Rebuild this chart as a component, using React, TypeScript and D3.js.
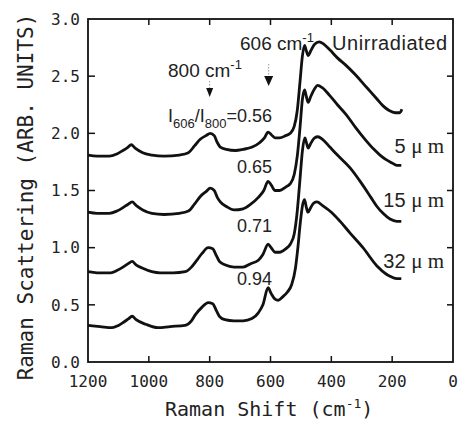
import * as d3 from "d3";

const WIDTH = 460;
const HEIGHT = 424;
const MARGIN = { top: 19, right: 7, bottom: 62, left: 88 };

const xTicks = [1200, 1000, 800, 600, 400, 200, 0];
const yTicks = [0, 0.5, 1.0, 1.5, 2.0, 2.5, 3.0];

// [Raman shift (cm-1), intensity]
const unirradiated: [number, number][] = [
  [1200, 1.81], [1170, 1.8], [1130, 1.8], [1105, 1.82], [1085, 1.85], [1068, 1.88], [1058, 1.9],
  [1045, 1.87], [1020, 1.83], [990, 1.81], [950, 1.8], [900, 1.81], [870, 1.83], [850, 1.89],
  [830, 1.95], [812, 1.98], [798, 2.0], [785, 1.98], [775, 1.92], [765, 1.88], [745, 1.86],
  [715, 1.85], [690, 1.86], [660, 1.88], [635, 1.92], [620, 1.96], [608, 2.01], [598, 1.99],
  [585, 1.96], [570, 1.96], [550, 1.98], [535, 2.0], [522, 2.06], [512, 2.2], [503, 2.45],
  [495, 2.68], [488, 2.77], [482, 2.72], [476, 2.68], [468, 2.72], [455, 2.78], [440, 2.8],
  [425, 2.78], [405, 2.73], [380, 2.66], [350, 2.59], [320, 2.51], [290, 2.42], [270, 2.36],
  [250, 2.3], [230, 2.24], [210, 2.2], [190, 2.18], [175, 2.18], [168, 2.21],
];

const um5: [number, number][] = [
  [1200, 1.31], [1170, 1.3], [1130, 1.3], [1105, 1.32], [1085, 1.35], [1068, 1.38], [1055, 1.4],
  [1042, 1.37], [1020, 1.33], [990, 1.3], [950, 1.29], [900, 1.3], [870, 1.32], [850, 1.38],
  [830, 1.45], [812, 1.49], [798, 1.52], [785, 1.5], [775, 1.44], [765, 1.4], [745, 1.36],
  [720, 1.33], [690, 1.34], [665, 1.38], [640, 1.44], [622, 1.5], [608, 1.58], [598, 1.55],
  [585, 1.5], [570, 1.5], [550, 1.53], [535, 1.56], [522, 1.64], [512, 1.8], [503, 2.05],
  [495, 2.3], [488, 2.38], [482, 2.32], [476, 2.27], [468, 2.32], [455, 2.39], [445, 2.42],
  [430, 2.4], [405, 2.33], [380, 2.25], [350, 2.16], [320, 2.05], [290, 1.95], [260, 1.86],
  [240, 1.81], [220, 1.77], [200, 1.74], [185, 1.72], [170, 1.72],
];

const um15: [number, number][] = [
  [1200, 0.79], [1170, 0.78], [1125, 0.78], [1105, 0.8], [1085, 0.83], [1068, 0.86], [1055, 0.88],
  [1042, 0.85], [1020, 0.82], [990, 0.79], [963, 0.78], [920, 0.78], [880, 0.79], [860, 0.83],
  [845, 0.88], [825, 0.95], [805, 1.0], [790, 0.99], [778, 0.93], [768, 0.88], [750, 0.85],
  [720, 0.83], [690, 0.83], [665, 0.86], [640, 0.89], [625, 0.94], [608, 1.03], [598, 1.0],
  [585, 0.96], [570, 0.96], [550, 0.99], [535, 1.03], [522, 1.12], [512, 1.32], [503, 1.6],
  [495, 1.85], [487, 1.96], [481, 1.91], [476, 1.87], [468, 1.91], [455, 1.96], [444, 1.97],
  [430, 1.95], [405, 1.88], [380, 1.81], [339, 1.7], [300, 1.56], [270, 1.44], [250, 1.36],
  [230, 1.3], [207, 1.25], [185, 1.23], [170, 1.23],
];

const um32: [number, number][] = [
  [1200, 0.32], [1160, 0.31], [1121, 0.3], [1100, 0.32], [1082, 0.35], [1066, 0.38], [1055, 0.4],
  [1042, 0.37], [1010, 0.33], [970, 0.3], [930, 0.31], [881, 0.32], [860, 0.36], [848, 0.41],
  [825, 0.48], [805, 0.52], [790, 0.51], [778, 0.45], [768, 0.4], [750, 0.37], [720, 0.36],
  [690, 0.36], [661, 0.38], [640, 0.43], [625, 0.5], [608, 0.65], [598, 0.6], [585, 0.55],
  [575, 0.54], [560, 0.57], [545, 0.61], [530, 0.68], [518, 0.82], [510, 1.0], [502, 1.22],
  [494, 1.38], [488, 1.42], [482, 1.35], [477, 1.31], [468, 1.35], [458, 1.39], [447, 1.4],
  [430, 1.37], [400, 1.31], [371, 1.23], [339, 1.13], [296, 1.0], [250, 0.84], [220, 0.77],
  [207, 0.75], [185, 0.73], [170, 0.73],
];

const spectra = [unirradiated, um5, um15, um32];

const sampleLabels = ["5", "15", "32"];
const ratioLabels = ["0.65", "0.71", "0.94"];

const MONO = "'DejaVu Sans Mono', monospace";
const SANS = "'Liberation Sans', Arial, sans-serif";

const App = () => {
  const x = d3
    .scaleLinear()
    .domain([1200, 0])
    .range([MARGIN.left, WIDTH - MARGIN.right]);
  const y = d3
    .scaleLinear()
    .domain([0, 3])
    .range([HEIGHT - MARGIN.bottom, MARGIN.top]);

  const line = d3
    .line<[number, number]>()
    .x((d) => x(d[0]))
    .y((d) => y(d[1]))
    .curve(d3.curveMonotoneX);

  const x0 = x(1200);
  const x1 = x(0);
  const y0 = y(0);
  const y1 = y(3);
  const tick = 6;

  // label positions for the three irradiated samples and the ratios
  const sampleY = [153, 207, 268];
  const ratioY = [173, 232, 285];

  return (
    <svg
      width={WIDTH}
      height={HEIGHT}
      style={{ position: "absolute", left: 0, top: 0, background: "white" }}
    >
      {/* spectra */}
      {spectra.map((s, i) => (
        <path
          key={i}
          d={line(s) ?? ""}
          fill="none"
          stroke="#111"
          strokeWidth={2.8}
          strokeLinejoin="round"
        />
      ))}

      {/* frame and inward ticks */}
      <rect
        x={x0}
        y={y1}
        width={x1 - x0}
        height={y0 - y1}
        fill="none"
        stroke="#111"
        strokeWidth={1.8}
      />
      {xTicks.slice(1, -1).map((t) => (
        <g key={"xt" + t} stroke="#111" strokeWidth={1.5}>
          <line x1={x(t)} x2={x(t)} y1={y0} y2={y0 - tick} />
          <line x1={x(t)} x2={x(t)} y1={y1} y2={y1 + tick} />
        </g>
      ))}
      {yTicks.slice(1, -1).map((t) => (
        <g key={"yt" + t} stroke="#111" strokeWidth={1.5}>
          <line x1={x0} x2={x0 + tick + 1} y1={y(t)} y2={y(t)} />
          <line x1={x1} x2={x1 - tick} y1={y(t)} y2={y(t)} />
        </g>
      ))}

      {/* tick labels */}
      {xTicks.map((t) => (
        <text
          key={"xl" + t}
          x={x(t)}
          y={387}
          textAnchor="middle"
          fontFamily={MONO}
          fontSize={16}
          fill="#222"
        >
          {t}
        </text>
      ))}
      {yTicks.map((t) => (
        <text
          key={"yl" + t}
          x={80}
          y={y(t)}
          dy="0.36em"
          textAnchor="end"
          fontFamily={MONO}
          fontSize={16}
          fill="#222"
        >
          {t.toFixed(1)}
        </text>
      ))}

      {/* axis titles */}
      <text x={165} y={416} fontFamily={MONO} fontSize={20} fill="#222">
        Raman Shift (cm
        <tspan fontSize={13} dy={-8}>-1</tspan>
        <tspan dy={8}>)</tspan>
      </text>
      <text
        transform="translate(33,197) rotate(-90)"
        textAnchor="middle"
        fontFamily={MONO}
        fontSize={21}
        fill="#222"
      >
        Raman Scattering (ARB. UNITS)
      </text>

      {/* annotations */}
      <g fontFamily={SANS} fill="#222">
        <text x={168} y={77} fontSize={19}>
          800 cm<tspan fontSize={13} dy={-8}>-1</tspan>
        </text>
        <text x={240} y={50} fontSize={19}>
          606 cm<tspan fontSize={13} dy={-8}>-1</tspan>
        </text>
        <text x={332} y={50} fontSize={20} textLength={115}>
          Unirradiated
        </text>
        <text x={168} y={122} fontSize={18}>
          I<tspan fontSize={13} dy={6}>606</tspan>
          <tspan dy={-6}>/I</tspan>
          <tspan fontSize={13} dy={6}>800</tspan>
          <tspan dy={-6}>=0.56</tspan>
        </text>
        {ratioLabels.map((r, i) => (
          <text key={r} x={237} y={ratioY[i]} fontSize={18}>
            {r}
          </text>
        ))}
        {sampleLabels.map((s, i) => (
          <text key={s} x={444} y={sampleY[i]} fontSize={20} textAnchor="end">
            {s}{" "}
            <tspan fontFamily="'Liberation Serif', serif" fontSize={21}>
              μ m
            </tspan>
          </text>
        ))}
      </g>

      {/* arrows marking the 800 and 606 bands */}
      <g>
        <line x1={x(800)} x2={x(800)} y1={81} y2={88} stroke="#999" strokeDasharray="1.5,1.5" />
        <path d={`M${x(800) - 3.5},88 L${x(800) + 3.5},88 L${x(800)},97 Z`} fill="#111" />
        <line x1={x(606)} x2={x(606)} y1={64} y2={76} stroke="#999" strokeDasharray="1.5,1.5" />
        <path d={`M${x(606) - 4.5},76 L${x(606) + 4.5},76 L${x(606)},86 Z`} fill="#111" />
      </g>
    </svg>
  );
};

export default App;
